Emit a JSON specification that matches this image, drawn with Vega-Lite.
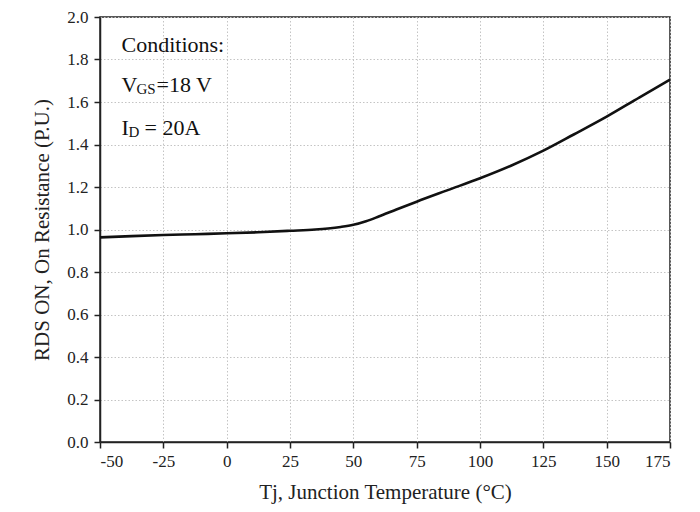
{
  "$schema": "https://vega.github.io/schema/vega-lite/v6.json",
  "width": 570,
  "height": 425,
  "autosize": "none",
  "padding": {"left": 100, "top": 17, "right": 30, "bottom": 70},
  "background": "white",
  "config": {
    "font": "Liberation Serif",
    "view": {"stroke": "#222", "strokeWidth": 1.5},
    "axis": {
      "domainColor": "#222",
      "domainWidth": 1.5,
      "tickColor": "#222",
      "tickWidth": 1.5,
      "labelColor": "#222",
      "labelFont": "Liberation Serif",
      "labelFontSize": 17,
      "titleFont": "Liberation Serif",
      "titleFontSize": 21,
      "titleFontWeight": "normal",
      "titleColor": "#222",
      "labelOverlap": false,
      "gridColor": "#c4c4c4",
      "gridDash": [1.5, 2],
      "gridWidth": 1
    }
  },
  "layer": [
    {
      "data": {
        "values": [
          {"t": -50, "r": 0.963},
          {"t": -37.5, "r": 0.969},
          {"t": -25, "r": 0.974},
          {"t": -12.5, "r": 0.978},
          {"t": 0, "r": 0.982},
          {"t": 12.5, "r": 0.987},
          {"t": 25, "r": 0.994},
          {"t": 35, "r": 1.0},
          {"t": 40, "r": 1.005},
          {"t": 45, "r": 1.012},
          {"t": 50, "r": 1.022},
          {"t": 55, "r": 1.039},
          {"t": 60, "r": 1.061},
          {"t": 67, "r": 1.094},
          {"t": 75, "r": 1.131},
          {"t": 87, "r": 1.184},
          {"t": 100, "r": 1.241},
          {"t": 112, "r": 1.299},
          {"t": 125, "r": 1.371},
          {"t": 137, "r": 1.447},
          {"t": 150, "r": 1.531},
          {"t": 163, "r": 1.622},
          {"t": 175, "r": 1.705}
        ]
      },
      "mark": {"type": "line", "color": "#111", "strokeWidth": 2.6, "interpolate": "monotone"},
      "encoding": {
        "x": {
          "field": "t",
          "type": "quantitative",
          "scale": {"domain": [-50, 175], "nice": false, "zero": false},
          "axis": {
            "title": "Tj, Junction Temperature (°C)",
            "values": [-50, -37.5, -25, -12.5, 0, 12.5, 25, 37.5, 50, 62.5, 75, 87.5, 100, 112.5, 125, 137.5, 150, 162.5, 175],
            "labelExpr": "datum.value % 25 === 0 ? '' + datum.value : ''",
            "tickSize": {"condition": {"test": "datum.value % 25 === 0", "value": 6}, "value": 4},
            "gridOpacity": {"condition": {"test": "datum.value % 25 === 0", "value": 1}, "value": 0.3},
            "labelPadding": 5,
            "titlePadding": 12
          }
        },
        "y": {
          "field": "r",
          "type": "quantitative",
          "scale": {"domain": [0, 2], "nice": false},
          "axis": {
            "title": "RDS ON, On Resistance (P.U.)",
            "values": [0, 0.1, 0.2, 0.3, 0.4, 0.5, 0.6, 0.7, 0.8, 0.9, 1.0, 1.1, 1.2, 1.3, 1.4, 1.5, 1.6, 1.7, 1.8, 1.9, 2.0],
            "format": ".1f",
            "labelExpr": "abs(datum.value * 5 - round(datum.value * 5)) < 0.001 ? datum.label : ''",
            "tickSize": {"condition": {"test": "abs(datum.value * 5 - round(datum.value * 5)) < 0.001", "value": 6}, "value": 4},
            "gridOpacity": {"condition": {"test": "abs(datum.value * 5 - round(datum.value * 5)) < 0.001", "value": 1}, "value": 0.3},
            "labelPadding": 6,
            "titlePadding": 14
          }
        }
      }
    },
    {
      "data": {"values": [{"t": -41.5, "r": 1.87, "label": "Conditions:"}, {"t": -41.5, "r": 1.68, "label": "V"}, {"t": -41.5, "r": 1.48, "label": "I"}]},
      "mark": {"type": "text", "align": "left", "baseline": "middle", "fontSize": 22, "color": "#111"},
      "encoding": {
        "x": {"field": "t", "type": "quantitative"},
        "y": {"field": "r", "type": "quantitative"},
        "text": {"field": "label"}
      }
    },
    {
      "data": {"values": [{"t": -41.5, "r": 1.68, "label": "GS"}]},
      "mark": {"type": "text", "align": "left", "baseline": "middle", "fontSize": 15, "dx": 15, "dy": 4, "color": "#111"},
      "encoding": {
        "x": {"field": "t", "type": "quantitative"},
        "y": {"field": "r", "type": "quantitative"},
        "text": {"field": "label"}
      }
    },
    {
      "data": {"values": [{"t": -41.5, "r": 1.68, "label": "=18 V"}]},
      "mark": {"type": "text", "align": "left", "baseline": "middle", "fontSize": 22, "dx": 35, "color": "#111"},
      "encoding": {
        "x": {"field": "t", "type": "quantitative"},
        "y": {"field": "r", "type": "quantitative"},
        "text": {"field": "label"}
      }
    },
    {
      "data": {"values": [{"t": -41.5, "r": 1.48, "label": "D"}]},
      "mark": {"type": "text", "align": "left", "baseline": "middle", "fontSize": 15, "dx": 7, "dy": 4, "color": "#111"},
      "encoding": {
        "x": {"field": "t", "type": "quantitative"},
        "y": {"field": "r", "type": "quantitative"},
        "text": {"field": "label"}
      }
    },
    {
      "data": {"values": [{"t": -41.5, "r": 1.48, "label": "= 20A"}]},
      "mark": {"type": "text", "align": "left", "baseline": "middle", "fontSize": 22, "dx": 23, "color": "#111"},
      "encoding": {
        "x": {"field": "t", "type": "quantitative"},
        "y": {"field": "r", "type": "quantitative"},
        "text": {"field": "label"}
      }
    }
  ]
}
